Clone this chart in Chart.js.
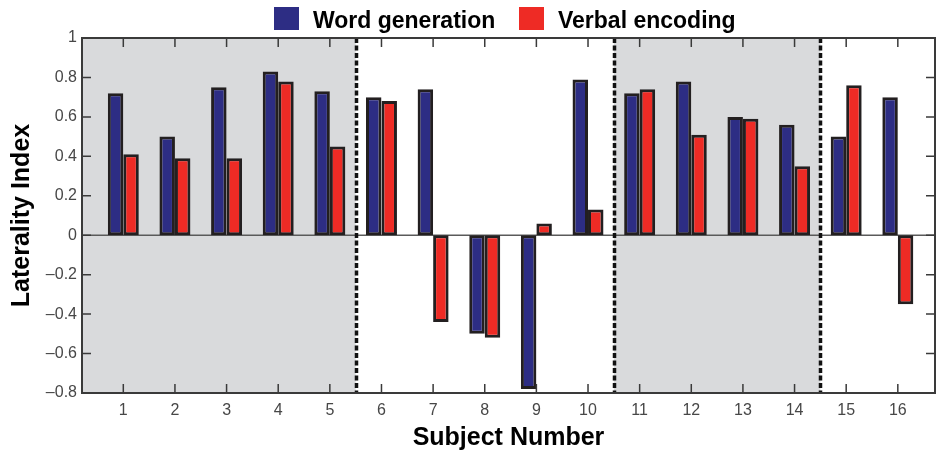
<!DOCTYPE html>
<html>
<head>
<meta charset="utf-8">
<script src="https://cdn.jsdelivr.net/npm/chart.js@4/dist/chart.umd.min.js"></script>
<style>
  html, body { margin: 0; padding: 0; background: #fff; }
  #wrap { width: 936px; height: 454px; position: relative; }
</style>
</head>
<body>
<div id="wrap"><canvas id="chart" width="936" height="454"></canvas></div>
<script>
// values
const subjects = [1, 2, 3, 4, 5, 6, 7, 8, 9, 10, 11, 12, 13, 14, 15, 16];
const wordGeneration = [0.72, 0.50, 0.75, 0.83, 0.73, 0.70, 0.74, -0.50, -0.78, 0.79, 0.72, 0.78, 0.60, 0.56, 0.50, 0.70];
const verbalEncoding = [0.41, 0.39, 0.39, 0.78, 0.45, 0.68, -0.44, -0.52, 0.06, 0.13, 0.74, 0.51, 0.59, 0.35, 0.76, -0.35];
const yTicks = [-0.8, -0.6, -0.4, -0.2, 0, 0.2, 0.4, 0.6, 0.8, 1];
const shadedRanges = [[0.2, 5.5], [10.5, 14.5]];
const dividers = [5.5, 10.5, 14.5];

const BLUE = '#2d2d84';
const RED = '#ee2b25';
const EDGE = '#231f20';
const AXIS = '#3a3a3a';
const TICKTXT = '#474747';

const toPoints = vals => vals.map((v, i) => ({ x: subjects[i], y: v }));

// shaded groups, zero line, dashed separators, inside ticks, frame, legend
const decorations = {
  id: 'decorations',
  beforeDatasetsDraw(chart) {
    const { ctx, chartArea: a, scales: { x, y } } = chart;
    ctx.save();
    ctx.fillStyle = '#d9dadc';
    shadedRanges.forEach(([s, e]) => {
      const x0 = x.getPixelForValue(s), x1 = x.getPixelForValue(e);
      ctx.fillRect(x0, a.top, x1 - x0, a.bottom - a.top);
    });
    const y0 = y.getPixelForValue(0);
    ctx.strokeStyle = '#5a5a5a';
    ctx.lineWidth = 1.5;
    ctx.beginPath();
    ctx.moveTo(a.left, y0);
    ctx.lineTo(a.right, y0);
    ctx.stroke();
    ctx.restore();
  },
  afterDatasetsDraw(chart) {
    const { ctx, chartArea: a, scales: { x, y } } = chart;
    ctx.save();
    // dashed separators
    ctx.strokeStyle = '#111';
    ctx.lineWidth = 3.5;
    ctx.setLineDash([5, 2.5]);
    dividers.forEach(d => {
      const px = Math.round(x.getPixelForValue(d)) + 0.5;
      ctx.beginPath();
      ctx.moveTo(px, a.top);
      ctx.lineTo(px, a.bottom);
      ctx.stroke();
    });
    ctx.setLineDash([]);
    // inside ticks
    ctx.strokeStyle = AXIS;
    ctx.lineWidth = 1.5;
    const tl = 9;
    ctx.beginPath();
    subjects.forEach(s => {
      const px = x.getPixelForValue(s);
      ctx.moveTo(px, a.bottom); ctx.lineTo(px, a.bottom - tl);
      ctx.moveTo(px, a.top); ctx.lineTo(px, a.top + tl);
    });
    yTicks.forEach(t => {
      const py = y.getPixelForValue(t);
      ctx.moveTo(a.left, py); ctx.lineTo(a.left + tl, py);
      ctx.moveTo(a.right, py); ctx.lineTo(a.right - tl, py);
    });
    ctx.stroke();
    // frame
    ctx.lineWidth = 2;
    ctx.strokeRect(a.left, a.top, a.right - a.left, a.bottom - a.top);
    ctx.restore();
  },
  afterDraw(chart) {
    const { ctx } = chart;
    ctx.save();
    ctx.font = 'bold 23px "Liberation Sans", Arial, sans-serif';
    ctx.textBaseline = 'alphabetic';
    const items = [[274, 0], [519, 1]];
    items.forEach(([bx, di]) => {
      const ds = chart.data.datasets[di];
      ctx.fillStyle = ds.backgroundColor;
      ctx.fillRect(bx, 7, 25, 23);
      ctx.fillStyle = '#000';
      ctx.fillText(ds.label, bx + 39, 28);
    });
    ctx.restore();
  }
};

new Chart(document.getElementById('chart'), {
  type: 'bar',
  data: {
    datasets: [
      {
        label: 'Word generation',
        data: toPoints(wordGeneration),
        backgroundColor: BLUE,
        borderColor: EDGE,
        borderWidth: 3,
        borderSkipped: false
      },
      {
        label: 'Verbal encoding',
        data: toPoints(verbalEncoding),
        backgroundColor: RED,
        borderColor: EDGE,
        borderWidth: 3,
        borderSkipped: false
      }
    ]
  },
  options: {
    responsive: false,
    animation: false,
    devicePixelRatio: 1,
    layout: { padding: { top: 38, right: 1, left: 0, bottom: 0 } },
    datasets: { bar: { categoryPercentage: 0.6, barPercentage: 1 } },
    plugins: { legend: { display: false }, tooltip: { enabled: false } },
    scales: {
      x: {
        type: 'linear',
        min: 0.2,
        max: 16.72,
        offset: false,
        grid: { display: false, drawTicks: false },
        border: { display: false },
        afterBuildTicks: scale => { scale.ticks = subjects.map(v => ({ value: v })); },
        afterFit: scale => { scale.height = 61; },
        ticks: {
          padding: 8,
          color: TICKTXT,
          font: { family: '"Liberation Sans", Arial, sans-serif', size: 16 },
          maxRotation: 0,
          autoSkip: false
        },
        title: {
          display: true,
          text: 'Subject Number',
          color: '#000',
          font: { family: '"Liberation Sans", Arial, sans-serif', size: 25, weight: 'bold' },
          padding: { top: 0, bottom: 1 }
        }
      },
      y: {
        min: -0.8,
        max: 1,
        grid: { display: false, drawTicks: false },
        border: { display: false },
        afterBuildTicks: scale => { scale.ticks = yTicks.map(v => ({ value: v })); },
        afterFit: scale => { scale.width = 82; },
        ticks: {
          padding: 5,
          color: TICKTXT,
          font: { family: '"Liberation Sans", Arial, sans-serif', size: 16 },
          callback: v => {
            const r = Math.round(v * 10) / 10;
            if (r === 0) return '0';
            const s = Math.abs(r).toString();
            return r < 0 ? '\u2013' + s : s;
          }
        },
        title: {
          display: true,
          text: 'Laterality Index',
          color: '#000',
          font: { family: '"Liberation Sans", Arial, sans-serif', size: 25, weight: 'bold' },
          padding: { top: 7, bottom: 0 }
        }
      }
    }
  },
  plugins: [decorations]
});
</script>
</body>
</html>
